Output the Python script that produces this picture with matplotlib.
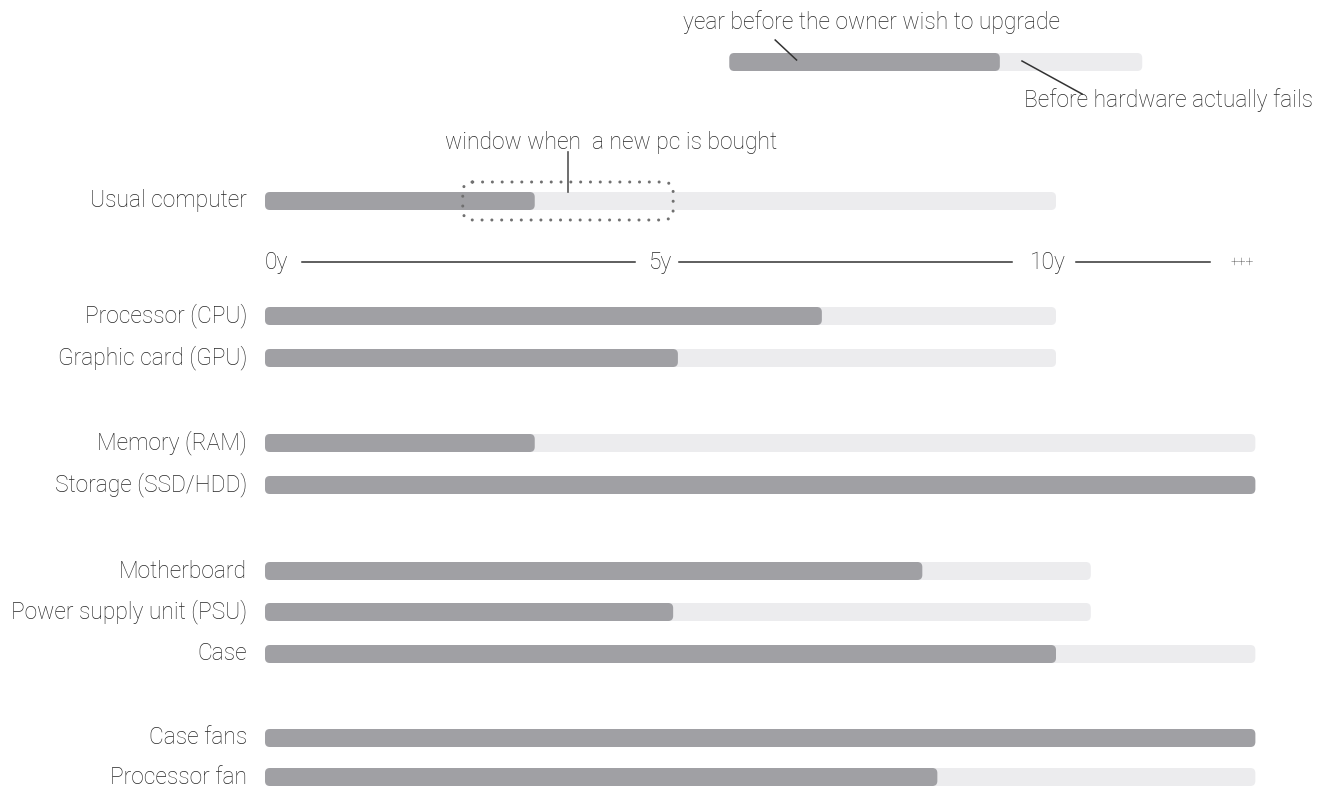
import matplotlib
matplotlib.use("Agg")
import matplotlib.pyplot as plt
from matplotlib.patches import FancyBboxPatch

# ---------------- data ----------------
components = ["Processor (CPU)", "Graphic card (GPU)",
              "Memory (RAM)", "Storage (SSD/HDD)",
              "Motherboard", "Power supply unit (PSU)", "Case",
              "Case fans", "Processor fan"]
upgrade_years = [7.04, 5.22, 3.41, 12.52, 8.31, 5.16, 10.0, 12.52, 8.50]
fail_years = [10.0, 10.0, 12.52, 12.52, 10.44, 10.44, 12.52, 12.52, 12.52]

usual_label = "Usual computer"
usual_upgrade = 3.41
usual_fail = 10.0
window_start, window_end = 2.50, 5.16
window_label = "window when  a new pc is bought"
window_pointer = 3.83

axis_labels = ["0y", "5y", "10y", "+++"]
axis_label_pos = [0.0, 5.0, 9.9, 12.35]

legend_start = 5.87
legend_upgrade = 3.42
legend_fail = 5.22
legend_upgrade_text = "year before the owner wish to upgrade"
legend_fail_text = "Before hardware actually fails"

# ---------------- layout ----------------
W, H = 1333, 791
PX_PER_YEAR = 79.1
X0 = 265
DARK = "#a0a0a4"
LIGHT = "#ececee"
TXT = "#262626"
FONT = ["Roboto", "DejaVu Sans"]
FS = 16.4

row_y = [316, 358, 443, 485, 571, 612, 654, 738, 777]
usual_y = 201
axis_y = 262
legend_y = 62
bar_h = 18
rad_px = 5

fig = plt.figure(figsize=(W / 100, H / 100), dpi=100)
ax = fig.add_axes([0, 0, 1, 1])
ax.set_xlim(-X0 / PX_PER_YEAR, (W - X0) / PX_PER_YEAR)
ax.set_ylim(H, 0)
ax.axis("off")


def rbar(x0, length, yc, color, z=2):
    r = rad_px / PX_PER_YEAR
    p = FancyBboxPatch((x0, yc - bar_h / 2), length, bar_h,
                       boxstyle=f"round,pad=0,rounding_size={r}",
                       mutation_aspect=PX_PER_YEAR,
                       facecolor=color, edgecolor="none", zorder=z)
    ax.add_patch(p)


def text(x, y, s, ha="right", size=FS, va="center"):
    ax.text(x, y, s, ha=ha, va=va, fontsize=size, color=TXT,
            family=FONT, fontweight="light")


label_x = (247 - X0) / PX_PER_YEAR

# component bars
for name, up, fail, y in zip(components, upgrade_years, fail_years, row_y):
    rbar(0, fail, y, LIGHT, 1)
    rbar(0, up, y, DARK, 2)
    text(label_x, y, name)

# usual computer
rbar(0, usual_fail, usual_y, LIGHT, 1)
rbar(0, usual_upgrade, usual_y, DARK, 2)
text(label_x, usual_y, usual_label)

# window
wr = 10 / PX_PER_YEAR
win = FancyBboxPatch((window_start, usual_y - 19), window_end - window_start, 38,
                     boxstyle=f"round,pad=0,rounding_size={wr}",
                     mutation_aspect=PX_PER_YEAR,
                     facecolor="none", edgecolor="#707070", linewidth=2.2,
                     linestyle=(0, (0.01, 3.2)), capstyle="round", zorder=3)
ax.add_patch(win)
ax.plot([window_pointer, window_pointer], [152, usual_y - 9], color="#555555",
        lw=1.2, zorder=4)
text(window_pointer + 0.54, 142, window_label, ha="center")

# axis row
for lab, pos, ha in zip(axis_labels, axis_label_pos, ["left", "center", "center", "center"]):
    text(pos, axis_y, lab, ha=ha, size=FS if lab != "+++" else 10)
segs = [(0.47, 4.68), (5.23, 9.44), (10.25, 11.95)]
for a, b in segs:
    ax.plot([a, b], [axis_y, axis_y], color="#333333", lw=1.1)

# legend
rbar(legend_start, legend_fail, legend_y, LIGHT, 1)
rbar(legend_start, legend_upgrade, legend_y, DARK, 2)
text(legend_start + 1.8, 22, legend_upgrade_text, ha="center")
ax.plot([legend_start + 0.58, legend_start + 0.85], [40, 60], color="#333333", lw=1.1)
text(13.25, 100, legend_fail_text, ha="right")
lx = legend_start + legend_upgrade + 0.28
ax.plot([lx, lx + 0.76], [61, 94], color="#333333", lw=1.1)

fig.savefig("out.png", dpi=100, facecolor="white")
